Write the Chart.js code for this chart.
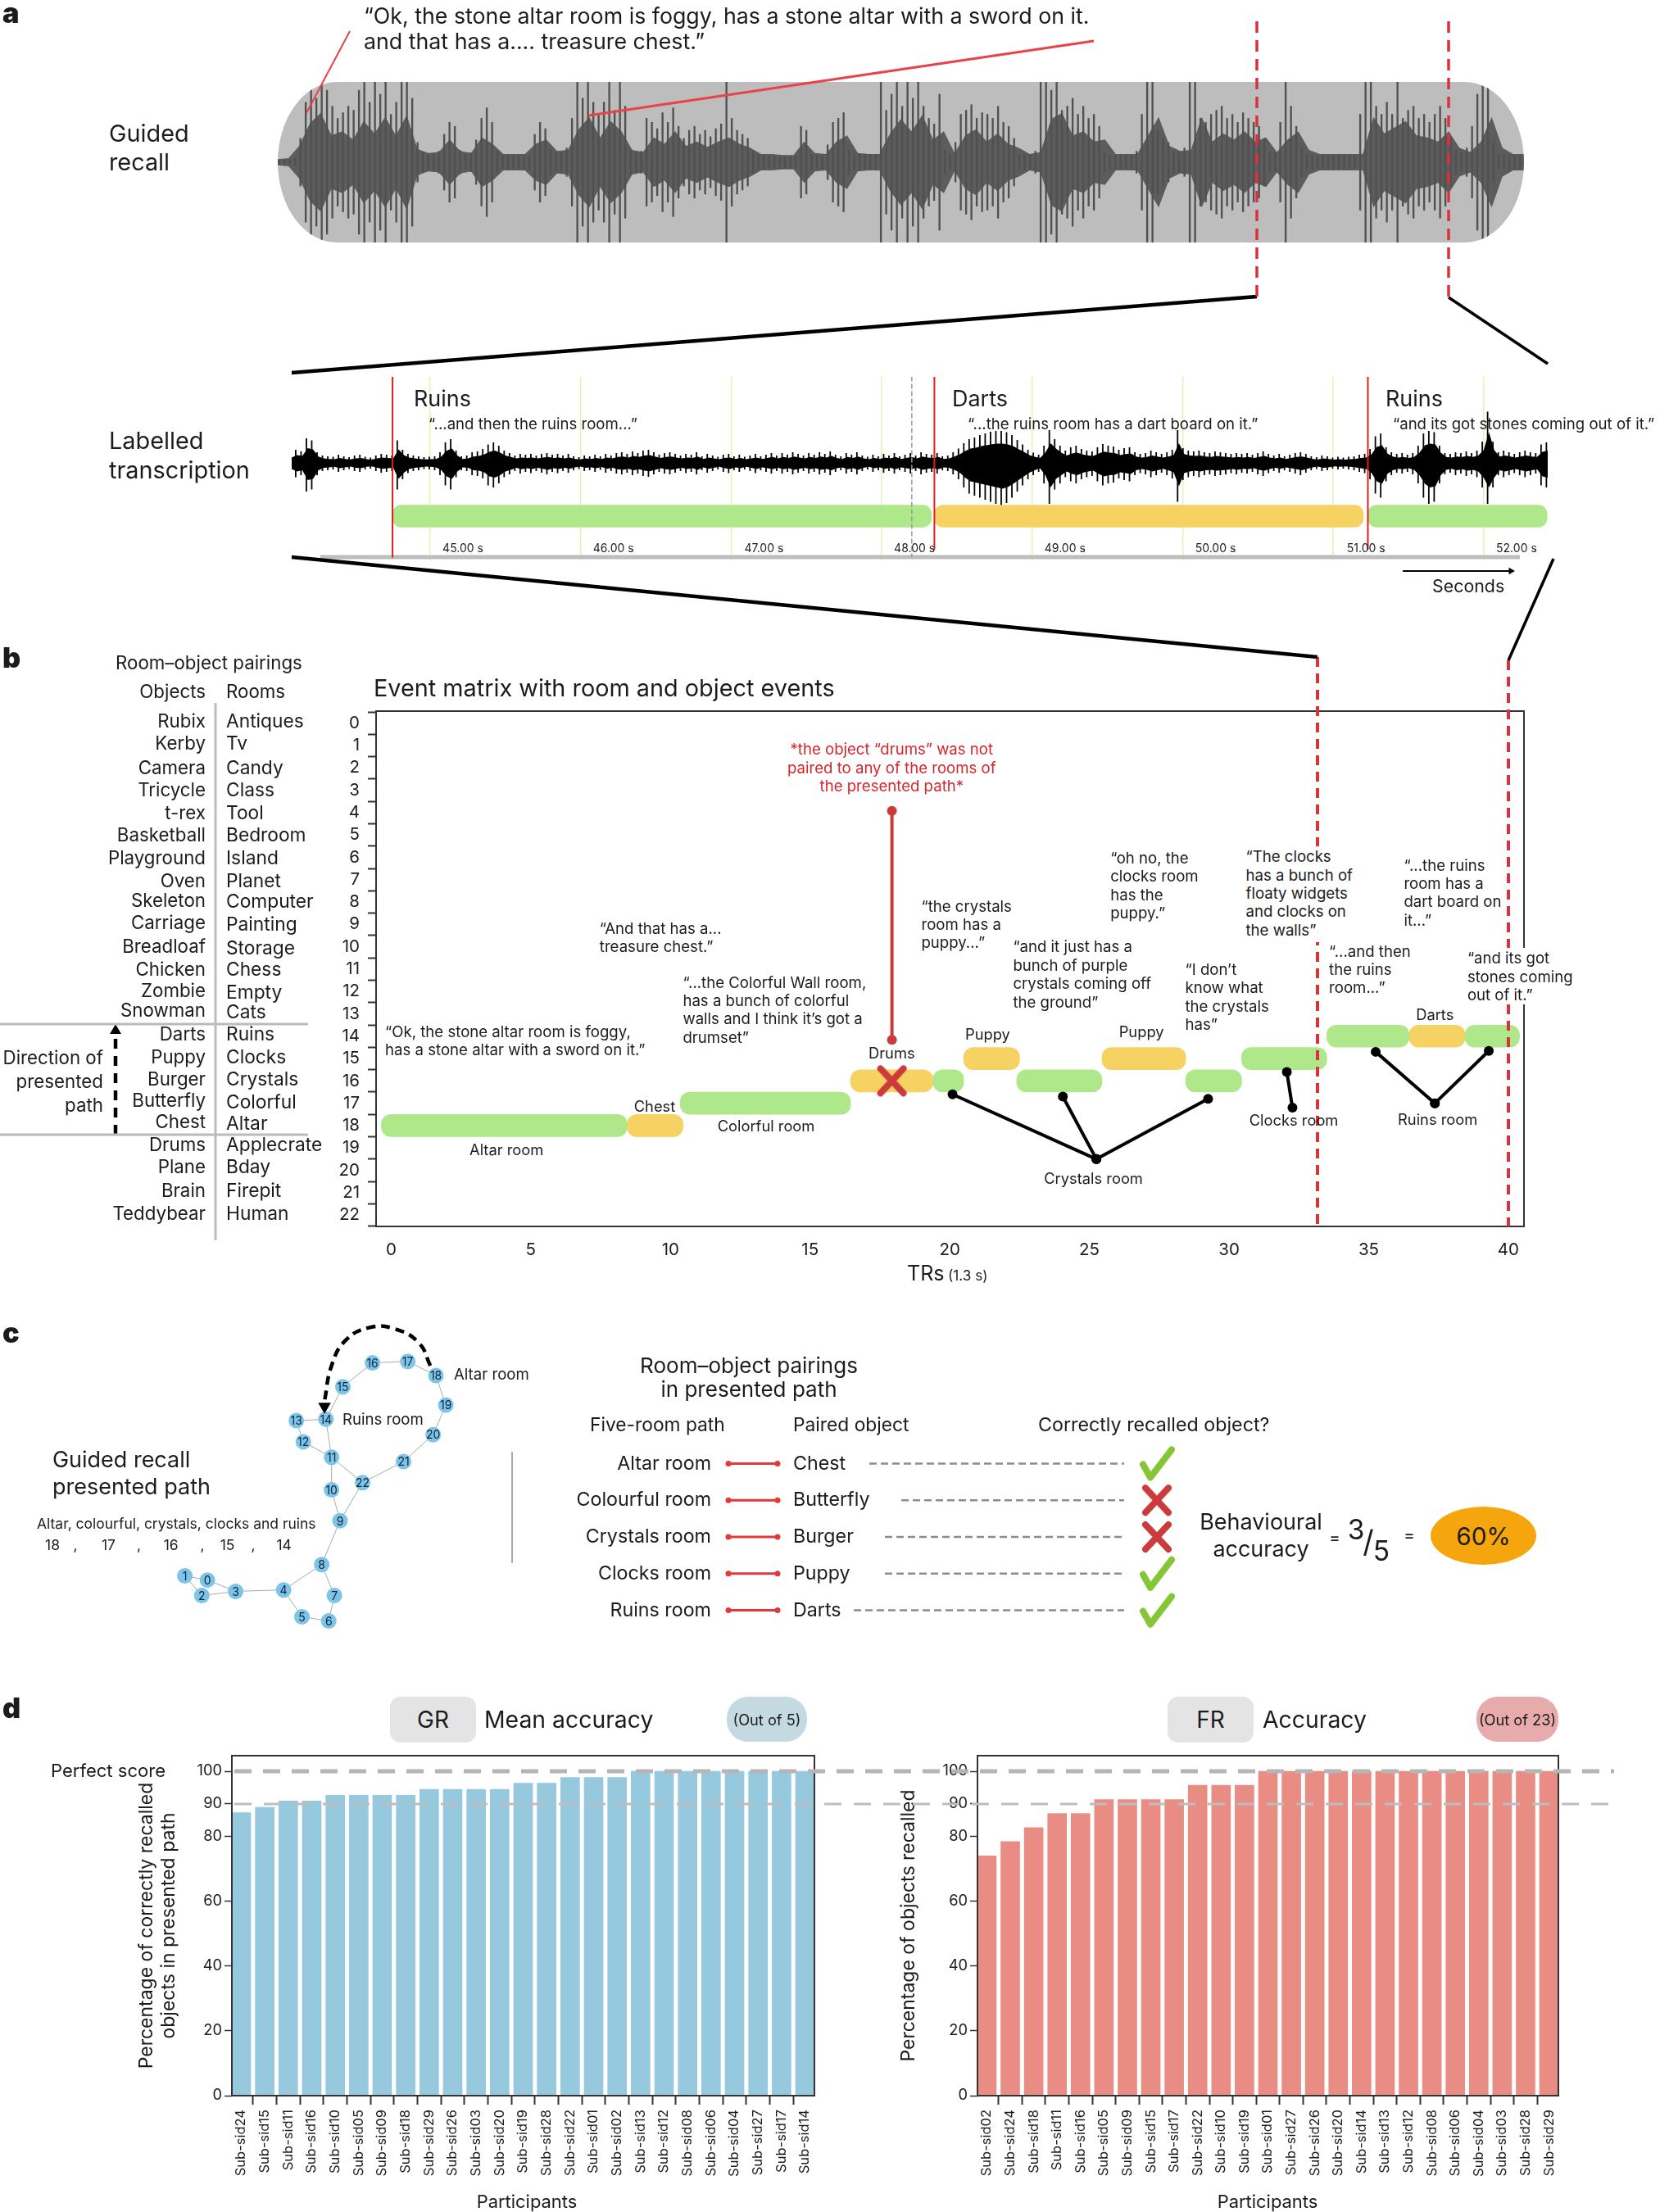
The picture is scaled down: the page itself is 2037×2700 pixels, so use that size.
<!doctype html>
<html><head><meta charset="utf-8">
<script src="https://cdn.jsdelivr.net/npm/chart.js@4/dist/chart.umd.js"></script>
<style>
html,body{margin:0;background:#fff}
#page{position:relative;width:2037px;height:2700px;overflow:hidden;font-family:Inter,sans-serif;color:#1c1c1c}
#page canvas{position:absolute}
.t{position:absolute;white-space:pre;z-index:5;line-height:1}
.box{position:absolute;z-index:4;display:flex;align-items:center;justify-content:center}
</style></head>
<body><div id="page"></div>
<script>
// ── panel a: waveform envelopes
const recallPeak=[3,3,3,5,30,75,95,80,100,90,70,55,62,70,65,90,100,75,100,85,100,60,75,100,100,80,25,12,10,10,14,35,50,45,15,10,12,28,55,68,50,14,9,9,9,9,9,9,35,50,42,16,12,12,18,55,100,80,100,75,60,75,100,65,100,70,16,12,14,55,50,42,62,50,68,45,30,40,45,35,40,32,42,48,100,55,40,35,30,14,9,9,8,8,8,8,8,8,45,40,10,9,9,22,50,55,62,15,11,10,10,10,10,100,65,85,100,70,100,80,100,70,55,48,85,15,10,25,60,65,72,55,62,60,55,70,50,45,30,10,10,10,14,100,100,90,100,65,70,80,60,70,55,60,45,12,9,9,9,9,9,14,60,100,100,40,30,25,14,12,18,100,100,55,50,60,65,70,55,60,50,62,55,50,45,30,12,12,50,100,70,45,18,9,9,9,9,9,9,9,9,9,9,60,100,100,70,60,75,60,100,55,65,70,55,60,50,60,70,55,30,15,12,18,45,85,100,100,25,9,9,9,9,9];
const recallBody=[3,4,16,38,48,26,30,22,40,28,44,26,46,13,9,10,22,11,9,24,18,8,8,8,18,22,11,12,32,44,24,40,30,12,10,24,18,30,16,20,15,20,24,18,14,8,8,7,7,20,9,8,20,26,9,8,8,28,42,30,46,22,30,9,26,32,20,28,18,14,8,10,42,48,26,30,20,22,8,8,8,26,44,16,11,12,44,20,28,22,30,20,24,10,22,30,12,8,8,8,8,8,44,28,34,40,26,24,20,30,14,10,20,44,14,8,8];
const transcriptLow=[25,35,30,70,65,30,20,18,16,22,18,15,20,22,16,14,20,24,22,20,65,40,25,20,18,15,16,18,30,55,65,35,18,20,30,32,38,55,60,50,35,28,20,26,22,25,20,24,28,22,25,20,24,18,15,20,18,22,17,24,20,26,28,24,30,26,32,34,28,22,26,28,24,20,25,22,28,18,24,20,16,22,25,18,22,16,20,25,18,22,26,20,26,22,28,24,20,26,22,28,24,30,22,18,26,22,28,20,16,22,18,24,20,26,18,22,26,20,28,24,22,26,18,20,28,40,60,75,80,85,90,95,100,105,98,85,70,55,40,30,22,50,100,65,50,35,45,50,40,35,32,45,55,50,48,38,42,45,30,25,28,35,30,24,30,38,95,42,35,32,35,30,28,32,30,28,25,28,24,26,22,28,32,25,20,24,18,22,26,30,24,18,15,20,18,14,16,14,16,18,22,25,40,75,85,45,30,24,26,22,28,50,85,100,95,50,28,24,30,26,32,28,35,60,100,60,30,35,30,25,30,35,30,26,55,60];
const transcriptUp=[22,32,28,60,55,26,18,16,15,20,16,14,18,20,15,13,18,22,20,18,55,32,22,18,16,14,15,16,26,50,58,30,16,18,26,28,34,45,50,42,30,24,18,22,20,22,18,22,24,20,22,18,22,16,14,18,16,20,16,22,18,24,26,22,28,24,30,32,26,20,24,26,22,18,22,20,26,16,22,18,15,20,22,16,20,15,18,22,16,20,24,18,24,20,26,22,18,24,20,26,22,28,20,16,24,20,26,18,15,20,16,22,18,24,16,20,24,18,26,22,20,24,16,18,26,35,48,58,62,68,72,76,78,78,75,68,56,45,32,25,20,42,80,58,42,30,38,42,34,30,28,38,46,42,40,32,36,38,26,22,24,30,26,22,26,32,80,36,30,28,30,26,24,28,26,24,22,24,22,24,20,24,28,22,18,22,16,20,24,26,22,16,14,18,16,13,15,13,15,16,20,22,34,65,72,38,26,22,24,20,24,42,72,78,75,42,24,22,26,24,28,24,30,52,125,52,26,30,26,22,26,30,26,24,45,50];
const secondTicks=[45,46,47,48,49,50,51,52];
const segmentNames=['Ruins','Darts','Ruins'];
const segmentStart=[44.75,48.35,51.23];
const segmentEnd=[48.33,51.2,52.42];
const segmentKind=['room','object','room'];

// ── panel b: event matrix
const rooms=['Antiques','Tv','Candy','Class','Tool','Bedroom','Island','Planet','Computer','Painting','Storage','Chess','Empty','Cats','Ruins','Clocks','Crystals','Colorful','Altar','Applecrate','Bday','Firepit','Human'];
const objects=['Rubix','Kerby','Camera','Tricycle','t-rex','Basketball','Playground','Oven','Skeleton','Carriage','Breadloaf','Chicken','Zombie','Snowman','Darts','Puppy','Burger','Butterfly','Chest','Drums','Plane','Brain','Teddybear'];
const rowTicks=[0,1,2,3,4,5,6,7,8,9,10,11,12,13,14,15,16,17,18,19,20,21,22];
const trTicks=[0,5,10,15,20,25,30,35,40];
const roomRow=[18,17,16,16,16,15,14,14];
const roomStart=[-0.35,10.35,19.4,22.4,28.45,30.45,33.5,38.45];
const roomEnd=[8.45,16.45,20.5,25.45,30.45,33.5,36.45,40.4];
const objectRow=[18,16,15,15,14];
const objectStart=[8.45,16.45,20.5,25.45,36.45];
const objectEnd=[10.45,19.4,22.5,28.45,38.45];
const drumsLineX=[17.93,17.93];
const drumsLineY=[3.92,14.16];
const crystalsHub=[25.25,19.5];
const crystalsEvents=[[20.1,16.6],[24.05,16.7],[29.25,16.8]];
const clocksLink=[[32.07,15.6],[32.27,17.2]];
const ruinsHub=[37.37,17];
const ruinsEvents=[[35.25,14.7],[39.3,14.66]];

// ── panel c: room graph and pairings
const nodeX=[147,131,143,167,201,214,233,237,228,241,235,235,215,210,231,243,264,289,309,316,307,286,257];
const nodeY=[1120,1117,1131,1128,1127,1146,1149,1131,1109,1078,1056,1033,1022,1007,1006,983,966,965,975,996,1017,1036,1051];
const edgeFrom=[0,1,0,2,3,4,4,5,6,7,8,9,9,10,11,11,11,12,13,14,15,16,17,18,19,20,21];
const edgeTo=[1,2,3,3,4,5,8,6,7,8,9,10,22,11,22,14,12,13,14,15,16,17,18,19,20,21,22];
const pathCurveX=[305,297,280,262,245,235,230];
const pathCurveY=[968,952,942,941,950,968,993];
const pathRooms=['Altar room','Colourful room','Crystals room','Clocks room','Ruins room'];
const pathObjects=['Chest','Butterfly','Burger','Puppy','Darts'];
const recalled=[1,0,0,1,1];
const dashStart=[1061,1100,1080,1080,1042];

// ── panel d: accuracy bars
const grSubjects=['24','15','11','16','10','05','09','18','29','26','03','20','19','28','22','01','02','13','12','08','06','04','27','17','14'];
const grValues=[87.2,88.9,90.8,90.8,92.6,92.6,92.6,92.6,94.4,94.4,94.4,94.4,96.3,96.3,98.1,98.1,98.1,100,100,100,100,100,100,100,100];
const frSubjects=['02','24','18','11','16','05','09','15','17','22','10','19','01','27','26','20','14','13','12','08','06','04','03','28','29'];
const frValues=[73.9,78.3,82.6,87,87,91.3,91.3,91.3,91.3,95.7,95.7,95.7,100,100,100,100,100,100,100,100,100,100,100,100,100];
const pctTicks=[0,20,40,60,80,90,100];

const F=1.722,S=.93,page=document.getElementById('page');
const GREEN='#aee88a',YELLOW='#f5d262',RED='#d8333a',INK='#1c1c1c',FONT='Inter,sans-serif';
const flush={autoPadding:false,padding:0};
// fixed axis boxes, so the plot frames land where the picture has them
const fitX=h=>s=>{s.height=h;s.paddingLeft=0;s.paddingRight=0;};
const fitY=w=>s=>{s.width=w;s.paddingTop=0;s.paddingBottom=0;};

function T(text,x,y,size,o={}){
  const d=document.createElement('div');d.className='t';d.textContent=text;
  const ax=o.align==='right'?'-100%':o.align==='center'?'-50%':'0';
  d.style.cssText=`left:${x}px;top:${y}px;font-size:${size*S}px;transform:translate(${ax},-50%);`+
    (o.color?`color:${o.color};`:'')+(o.weight?`font-weight:${o.weight};`:'');
  page.appendChild(d);return d;
}
function Q(lines,x,y,size=20,lh=22.4,o={}){lines.forEach((l,i)=>T(l,x,y+i*lh,size,o));}
function Box(x,y,w,h,bg,r,text,size){
  const d=document.createElement('div');d.className='box';d.textContent=text;
  d.style.cssText=`left:${x}px;top:${y}px;width:${w}px;height:${h}px;background:${bg};border-radius:${r};font-size:${size*S}px;`;
  page.appendChild(d);return d;
}
function mk(x,y,w,h,cfg,parent=page,z=1){
  const c=document.createElement('canvas');c.width=w;c.height=h;
  c.style.cssText=`left:${x}px;top:${y}px;width:${w}px;height:${h}px;z-index:${z};`;
  parent.appendChild(c);
  cfg.options=Object.assign({responsive:false,animation:false,devicePixelRatio:1,events:[],
    plugins:{legend:{display:false},tooltip:{enabled:false}}},cfg.options);
  return new Chart(c,cfg);
}
const hidden=(min,max,extra={})=>Object.assign({type:'linear',display:false,offset:false,min,max},extra);
const line=(pts,color,width,o={})=>Object.assign({type:'scatter',showLine:true,data:pts,borderColor:color,borderWidth:width,
  pointRadius:0,tension:0,borderCapStyle:'round'},o);
const framePlugin={id:'frame',afterDraw(c){const a=c.chartArea,g=c.ctx;g.save();g.strokeStyle='#333';g.lineWidth=2;
  g.strokeRect(a.left,a.top,a.right-a.left,a.bottom-a.top);g.restore();}};
function markCanvas(kind){
  const c=document.createElement('canvas');c.width=46;c.height=44;const g=c.getContext('2d');
  g.lineCap='round';g.lineJoin='round';g.lineWidth=8;
  if(kind==='check'){g.strokeStyle='#84c636';g.beginPath();g.moveTo(6,23);g.lineTo(15,39);g.lineTo(41,5);g.stroke();}
  else{g.strokeStyle='#cc3b3b';g.beginPath();g.moveTo(9,7);g.lineTo(37,37);g.moveTo(37,7);g.lineTo(9,37);g.stroke();}
  return c;
}
const checkMark=markCanvas('check'),crossMark=markCanvas('cross');

// ── a: guided recall waveform
T('a',3,16,37,{weight:900});
Q(['“Ok, the stone altar room is foggy, has a stone altar with a sword on it.','and that has a.... treasure chest.”'],444,19,28.8,31);
Q(['Guided','recall'],133,163,31,35);
const recallBox=Box(339,100,1521,196,'#bdbdbd','72px / 98px','',10);recallBox.style.overflow='hidden';recallBox.style.zIndex=1;
mk(0,0,1521,196,{type:'bar',data:{labels:recallPeak.map((_,i)=>i),datasets:[
  {data:recallPeak.map(v=>[-v,v]),backgroundColor:'#505050',barPercentage:.72,categoryPercentage:1,order:1},
  {type:'line',xAxisID:'xb',yAxisID:'yb',data:recallBody,borderWidth:0,pointRadius:0,tension:0,fill:'+1',backgroundColor:'#5c5c5c',order:2},
  {type:'line',xAxisID:'xb',yAxisID:'yb',data:recallBody.map(v=>-v),borderWidth:0,pointRadius:0,tension:0,order:2}
]},options:{layout:flush,scales:{x:{display:false},xb:{type:'category',display:false,offset:false,labels:recallBody.map((_,i)=>i)},y:hidden(-100,100),yb:hidden(-78,78)}}},recallBox);

// ── a: labelled transcription
Q(['Labelled','transcription'],133,538,31,36);
const secMin=44.08,secMax=52.425,bodyShare=.6;
mk(356,460,1533,224,{type:'bar',data:{labels:transcriptLow.map((_,i)=>i),datasets:[
  {xAxisID:'xw',data:transcriptLow.map((v,i)=>[-v,transcriptUp[i]]),backgroundColor:'#000',barPercentage:.55,categoryPercentage:1,order:4},
  {type:'line',xAxisID:'xw',yAxisID:'yb',data:transcriptUp,borderWidth:0,pointRadius:0,tension:0,fill:'+1',backgroundColor:'#000',order:4},
  {type:'line',xAxisID:'xw',yAxisID:'yb',data:transcriptLow.map(v=>-v),borderWidth:0,pointRadius:0,tension:0,order:4},
  {indexAxis:'y',grouped:false,data:segmentStart.map((s,i)=>segmentKind[i]==='room'?{x:[s,segmentEnd[i]],y:-130}:null).filter(Boolean),
    backgroundColor:GREEN,barThickness:27,borderRadius:11,borderSkipped:false,order:2},
  {indexAxis:'y',grouped:false,data:segmentStart.map((s,i)=>segmentKind[i]==='object'?{x:[s,segmentEnd[i]],y:-130}:null).filter(Boolean),
    backgroundColor:YELLOW,barThickness:27,borderRadius:11,borderSkipped:false,order:2},
  line([{x:44.27,y:-230},{x:52.24,y:-230}],'#bdbdbd',5,{borderCapStyle:'butt',order:3}),
  line([{x:segmentStart[0],y:210},{x:segmentStart[0],y:-230}],'#e02020',2,{order:0}),
  line([{x:segmentStart[1],y:210},{x:segmentStart[1],y:-210}],'#e02020',2,{order:0}),
  line([{x:segmentStart[2],y:210},{x:segmentStart[2],y:-210}],'#e02020',2,{order:0}),
  line([{x:48.2,y:210},{x:48.2,y:-230}],'#999',1.5,{borderDash:[5,4],order:0})
]},options:{layout:flush,scales:{
  x:{type:'linear',offset:false,min:secMin,max:secMax,afterBuildTicks(s){s.ticks=secondTicks.map(value=>({value}))},
     ticks:{display:false},grid:{offset:false,color:'#efeeb4',lineWidth:1.5,drawTicks:false},border:{display:false},afterFit:fitX(0)},
  xw:{type:'category',display:false,offset:false},
  y:hidden(-238,210),
  yb:hidden(-238/bodyShare,210/bodyShare)}},
 plugins:[{id:'secLabels',afterDraw(c){const g=c.ctx,s=c.scales.x;g.save();g.font='14px '+FONT;g.fillStyle=INK;g.textAlign='center';g.textBaseline='middle';
   secondTicks.forEach(v=>g.fillText(v.toFixed(2)+' s',s.getPixelForValue(v)+40,670-460));g.restore();}}]});
segmentNames.forEach((n,i)=>T(n,[505,1162,1691][i],487,29));
T('“...and then the ruins room...”',523,517,20);
T('“...the ruins room has a dart board on it.”',1181,517,20);
T('“and its got stones coming out of it.”',1700,517,20);
T('Seconds',1748,716,23);

// ── b: event matrix
T('b',3,803,37,{weight:900});
T('Room–object pairings',141,809,24);
T('Objects',251,844,24,{align:'right'});T('Rooms',276,844,24);
objects.forEach((n,i)=>T(n,251,[511,527,544,560,576,592,608,624,638,654,671,687,702,716,733,749,765,780,795,811,827,844,860][i]*F,24,{align:'right'}));
rooms.forEach((n,i)=>T(n,276,[511,527,544,560,576,592,608,624,639,655,672,687,703,717,733,749,765,781,796,811,827,844,860][i]*F,24.5));
Q(['Direction of','presented','path'],126,1291,24,29,{align:'right'});
T('Event matrix with room and object events',456,840,31);
mk(380,860,1490,674,{type:'bar',data:{datasets:[
  {indexAxis:'y',grouped:false,data:roomRow.map((y,i)=>({x:[roomStart[i],roomEnd[i]],y})),backgroundColor:GREEN,barThickness:27,borderRadius:12,borderSkipped:false,order:5},
  {indexAxis:'y',grouped:false,data:objectRow.map((y,i)=>({x:[objectStart[i],objectEnd[i]],y})),backgroundColor:YELLOW,barThickness:27,borderRadius:12,borderSkipped:false,order:5},
  line(drumsLineX.map((x,i)=>({x,y:drumsLineY[i]})),'#cc3b3b',4,{pointRadius:6,pointBackgroundColor:'#cc3b3b',pointBorderWidth:0}),
  {type:'scatter',data:[{x:17.93,y:16}],pointStyle:crossMark,order:-1},
  ...crystalsEvents.map(p=>line([{x:p[0],y:p[1]},{x:crystalsHub[0],y:crystalsHub[1]}],'#000',4,{pointRadius:6,pointBackgroundColor:'#000',pointBorderWidth:0})),
  line(clocksLink.map(p=>({x:p[0],y:p[1]})),'#000',4,{pointRadius:6,pointBackgroundColor:'#000',pointBorderWidth:0}),
  ...ruinsEvents.map(p=>line([{x:p[0],y:p[1]},{x:ruinsHub[0],y:ruinsHub[1]}],'#000',4,{pointRadius:6,pointBackgroundColor:'#000',pointBorderWidth:0}))
]},options:{layout:{autoPadding:false,padding:{top:8,right:10,bottom:0,left:0}},scales:{
  x:{type:'linear',offset:false,min:-0.54,max:40.56,afterBuildTicks(s){s.ticks=trTicks.map(value=>({value}))},
     ticks:{font:{size:20.5,family:FONT},color:INK,padding:9,maxRotation:0,autoSkip:false},grid:{display:false},border:{display:false},afterFit:fitX(37)},
  y:{type:'linear',offset:false,reverse:true,min:-0.54,max:22.51,afterBuildTicks(s){s.ticks=rowTicks.map(value=>({value}))},
     ticks:{font:{size:20.5,family:FONT},color:INK,padding:10,autoSkip:false},grid:{drawOnChartArea:false,tickLength:10,tickColor:'#333',tickWidth:2},border:{display:false},afterFit:fitY(79)}
}},plugins:[framePlugin]});
[['Altar room',359,815],['Chest',464,784],['Colorful room',543,798],['Drums',632,746],['Puppy',700,733],['Puppy',809,731],['Crystals room',775,835],['Clocks room',917,794],['Ruins room',1019,793],['Darts',1017,719]]
  .forEach(l=>T(l[0],l[1]*F,l[2]*F,19.7,{align:'center'}));
const q=(lines,x,y,o)=>Q(lines,x*F,y*F,20,22.4,o);
Box(880*F,600*F,80*F,68*F,'#fff','0','',10);
Box(1040*F,672*F,78*F,40*F,'#fff','0','',10);
q(['“Ok, the stone altar room is foggy,','has a stone altar with a sword on it.”'],273,731);
q(['“And that has a...','treasure chest.”'],425,658);
q(['“...the Colorful Wall room,','has a bunch of colorful','walls and I think it’s got a','drumset”'],484,696);
q(['*the object “drums” was not','paired to any of the rooms of','the presented path*'],632,531,{align:'center',color:'#d8262c'});
q(['“the crystals','room has a','puppy...”'],653,642);
q(['“and it just has a','bunch of purple','crystals coming off','the ground”'],718,671);
q(['“oh no, the','clocks room','has the','puppy.”'],787,608);
q(['“I don’t','know what','the crystals','has”'],840,687);
q(['“The clocks','has a bunch of','floaty widgets','and clocks on','the walls”'],883,607);
q(['“...and then','the ruins','room...”'],942,674);
q(['“...the ruins','room has a','dart board on','it...”'],995,613);
q(['“and its got','stones coming','out of it.”'],1040,679);
T('TRs',1107,1555,27);T('(1.3 s)',1157,1557,18.5);

// ── c: graph on the left
T('c',3,1627,37,{weight:900});
Q(['Guided recall','presented path'],64,1782,29,33);
T('Altar, colourful, crystals, clocks and ruins',45,1860,18.8);
[['18',32],[',',52],['17',72],[',',97],['16',116],[',',142],['15',156],[',',178],['14',196]].forEach(l=>T(l[0],l[1]*F,1886,18.8));
mk(200,1600,500,420,{type:'scatter',data:{datasets:[
  ...edgeFrom.map((a,i)=>line([{x:nodeX[a],y:nodeY[a]},{x:nodeX[edgeTo[i]],y:nodeY[edgeTo[i]]}],'#aaa',1)),
  {data:nodeX.map((x,i)=>({x,y:nodeY[i]})),backgroundColor:'#7cc4e8',pointRadius:9.5,pointBorderWidth:0,order:-1},
  line(pathCurveX.map((x,i)=>({x,y:pathCurveY[i]})),'#000',4.5,{borderDash:[11,7],tension:.45,borderCapStyle:'butt'}),
  {data:[{x:230,y:997}],pointStyle:'triangle',rotation:180,pointRadius:9,backgroundColor:'#000',pointBorderWidth:0,order:-2}
]},options:{layout:flush,scales:{x:hidden(200/F,700/F),y:hidden(1600/F,2020/F,{reverse:true})}},
 plugins:[{id:'nodeLabels',afterDatasetsDraw(c){const g=c.ctx,sx=c.scales.x,sy=c.scales.y;g.save();g.font='14px '+FONT;g.fillStyle='#10243a';g.textAlign='center';g.textBaseline='middle';
   nodeX.forEach((x,i)=>g.fillText(i,sx.getPixelForValue(x),sy.getPixelForValue(nodeY[i])+1));g.restore();}}]});
T('Altar room',554,1677,20);T('Ruins room',418,1732,20);

// ── c: pairings table
T('Room–object pairings',914,1667,28,{align:'center'});
T('in presented path',914,1696,28,{align:'center'});
T('Five-room path',720,1739,24.5);T('Paired object',968,1739,24.5);T('Correctly recalled object?',1267,1739,25);
const rowY=[1786,1830,1875,1920,1965];
pathRooms.forEach((n,i)=>T(n,868,rowY[i],25,{align:'right'}));
pathObjects.forEach((n,i)=>T(n,968,rowY[i],25));
mk(850,1764,620,224,{type:'scatter',data:{datasets:[
  ...recalled.map((_,i)=>line([{x:889,y:i},{x:949,y:i}],'#e03a3a',3,{pointRadius:3.5,pointBackgroundColor:'#e03a3a',pointBorderWidth:0})),
  ...dashStart.map((x,i)=>line([{x,y:i},{x:1372,y:i}],'#8c8c8c',2.5,{borderDash:[9,5],borderCapStyle:'butt'})),
  {data:recalled.map((v,i)=>v?{x:1412,y:i}:null).filter(Boolean),pointStyle:checkMark},
  {data:recalled.map((v,i)=>v?null:{x:1412,y:i}).filter(Boolean),pointStyle:crossMark}
]},options:{layout:flush,scales:{x:hidden(850,1470),y:hidden(-.5,4.5,{reverse:true})}}});
T('Behavioural',1539,1858,29,{align:'center'});T('accuracy',1539,1891,29,{align:'center'});
T('=',1629,1877,22,{align:'center'});T('3',1655,1868,36,{align:'center'});T('/',1670,1882,40,{align:'center'});T('5',1686,1894,36,{align:'center'});T('=',1720,1874,22,{align:'center'});
Box(1746,1839,129,71,'#f5a60f','50%','60%',32);

// ── d: accuracy charts
T('d',3,2085,37,{weight:900});
Box(476,2071,105,56,'#e4e4e4','13px','GR',30);T('Mean accuracy',591,2099,30.5);Box(887,2071,98,55,'#c5dae0','26px','(Out of 5)',19.6);
Box(1425,2071,105,56,'#e4e4e4','13px','FR',30);T('Accuracy',1541,2099,30.5);Box(1802,2071,100,55,'#e6abaa','26px','(Out of 23)',19.6);
T('Perfect score',62,2161,23.7);
function accuracy(left,width,axisW,subjects,values,color,title){
  const labels=subjects.map(s=>'Sub-sid'+s);
  return mk(left,2135,width,565,{type:'bar',data:{datasets:[{data:values.map((y,x)=>({x,y})),backgroundColor:color,barThickness:23}]},
   options:{layout:{autoPadding:false,padding:{top:8,right:11,bottom:0,left:0}},scales:{
    x:{type:'linear',offset:false,min:-0.4,max:24.4,afterBuildTicks(s){s.ticks=labels.map((_,value)=>({value}))},
       ticks:{callback:v=>labels[v],font:{size:16.5,family:FONT},color:INK,minRotation:90,maxRotation:90,autoSkip:false,padding:6},
       grid:{drawOnChartArea:false,tickLength:11,tickColor:'#333',tickWidth:2},border:{display:false},afterFit:fitX(142)},
    y:{min:0,max:104.8,afterBuildTicks(s){s.ticks=pctTicks.map(value=>({value}))},
       ticks:{font:{size:18.3,family:FONT},color:INK,padding:3,autoSkip:false},grid:{drawOnChartArea:false,tickLength:9,tickColor:'#333',tickWidth:1.5},border:{display:false},
       title:{display:true,text:title,font:{size:23,family:FONT},color:INK,padding:0,lineHeight:1.2},afterFit:fitY(axisW)}
   }},plugins:[framePlugin]});
}
accuracy(165,840,118,grSubjects,grValues,'#96c9de',['Percentage of correctly recalled','objects in presented path']);
accuracy(1095,818,98,frSubjects,frValues,'#e98d84','Percentage of objects recalled');
T('Participants',643,2688,23.6,{align:'center'});T('Participants',1547,2688,23.6,{align:'center'});

// ── connectors and reference lines across panels
const seg=(x1,y1,x2,y2,c,w,o)=>line([{x:x1,y:y1},{x:x2,y:y2}],c,w,Object.assign({borderCapStyle:'butt'},o));
mk(0,0,2037,2700,{type:'scatter',data:{datasets:[
  seg(427,38,374,138,'#e8434a',2),seg(1335,50,718,141,'#e8434a',3),
  seg(1534,26,1534,362,RED,3.5,{borderDash:[14,9]}),seg(1768,26,1768,362,RED,3.5,{borderDash:[14,9]}),
  seg(356,455,1534,362,'#000',4.5),seg(1768,363,1889,444,'#000',3.5),
  seg(356,680,1608,802,'#000',4.5),seg(1896,682,1841,806,'#000',3.5),
  seg(1712,697,1846,697,'#000',2),
  {data:[{x:1844,y:697}],pointStyle:'triangle',rotation:90,pointRadius:5,backgroundColor:'#000',pointBorderWidth:0},
  seg(1608,802,1608,1497,RED,4,{borderDash:[12,8]}),seg(1841,806,1841,1497,RED,4,{borderDash:[12,8]}),
  seg(263,858,263,1514,'#bbb',3),seg(0,1250,376,1250,'#bbb',3),seg(0,1385,376,1385,'#bbb',3),
  seg(141,1385,141,1264,'#000',4.5,{borderDash:[12,9]}),
  {data:[{x:141,y:1258}],pointStyle:'triangle',pointRadius:8,backgroundColor:'#000',pointBorderWidth:0},
  seg(625,1772,625,1908,'#aaa',2),
  seg(286,2162,1970,2162,'#b5b5b5',5,{borderDash:[21,14]}),seg(286,2202,1970,2202,'#bdbdbd',3,{borderDash:[21,15]})
]},options:{layout:flush,scales:{x:hidden(0,2037),y:hidden(0,2700,{reverse:true})}}},page,3);
</script></body></html>
